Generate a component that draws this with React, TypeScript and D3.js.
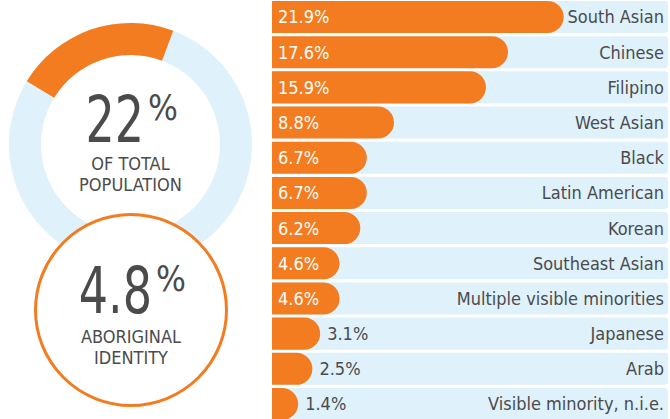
import React from 'react';
import * as d3 from 'd3';

const categories = [
  'South Asian',
  'Chinese',
  'Filipino',
  'West Asian',
  'Black',
  'Latin American',
  'Korean',
  'Southeast Asian',
  'Multiple visible minorities',
  'Japanese',
  'Arab',
  'Visible minority, n.i.e.',
];
const shares = [21.9, 17.6, 15.9, 8.8, 6.7, 6.7, 6.2, 4.6, 4.6, 3.1, 2.5, 1.4];
const totalShare = [22];
const aboriginalShare = [4.8];

const W = 670;
const H = 419;
const ORANGE = '#f47c20';
const PALE = '#dff1fb';
const INK = '#4b4b4d';
const FONT = '"Liberation Sans Narrow", "DejaVu Sans Condensed", "Open Sans", sans-serif';

function barPath(x0: number, y0: number, w: number, h: number) {
  const rx = Math.min(w, h / 2);
  const ry = h / 2;
  return `M${x0},${y0}H${x0 + w - rx}A${rx},${ry} 0 0 1 ${x0 + w},${y0 + ry}A${rx},${ry} 0 0 1 ${x0 + w - rx},${y0 + h}H${x0}Z`;
}

// big figure: condensed digits, raised percent sign
function BigFigure({ value, right, base }: { value: number; right: number; base: number }) {
  return (
    <g fill={INK}>
      <text transform={`translate(${right},${base}) scale(0.8,1)`} textAnchor="end" fontSize={64}>
        {value}
      </text>
      <text x={right + 4} y={base - 22} fontSize={35}>
        %
      </text>
    </g>
  );
}

export default function App() {
  const left = 272;
  const right = 668;

  const y = d3
    .scaleBand()
    .domain(categories)
    .range([1, 420])
    .paddingInner(0.09)
    .paddingOuter(0);

  // bar length includes the rounded cap
  const x = d3.scaleLinear().domain([0, 22]).range([8, 293]);

  // donut
  const cx = 130.5;
  const cy = 144.5;
  const outerR = 121.5;
  const innerR = 89.5;
  const share = totalShare[0] / 100;
  const mid = -19 * (Math.PI / 180);
  const ring = d3.arc<any>().innerRadius(innerR).outerRadius(outerR);
  const pale = ring({ startAngle: 0, endAngle: 2 * Math.PI });
  const filled = ring({
    startAngle: mid - share * Math.PI,
    endAngle: mid + share * Math.PI,
  });

  const c2x = 131;
  const c2y = 310;

  return (
    <svg
      width={W}
      height={H}
      style={{ position: 'absolute', left: 0, top: 0, background: '#fff' }}
      fontFamily={FONT}
    >
      {/* total population ring */}
      <g transform={`translate(${cx},${cy})`}>
        <path d={pale || ''} fill={PALE} />
        <path d={filled || ''} fill={ORANGE} />
      </g>
      <BigFigure value={totalShare[0]} right={144} base={142} />
      <text x={cx} y={170} textAnchor="middle" fill={INK} fontSize={18}>
        OF TOTAL
      </text>
      <text x={cx} y={191} textAnchor="middle" fill={INK} fontSize={18}>
        POPULATION
      </text>

      {/* aboriginal circle */}
      <circle cx={c2x} cy={c2y} r={95.5} fill="#fff" stroke={ORANGE} strokeWidth={3} />
      <BigFigure value={aboriginalShare[0]} right={152} base={313} />
      <text x={c2x} y={343} textAnchor="middle" fill={INK} fontSize={18}>
        ABORIGINAL
      </text>
      <text x={c2x} y={364} textAnchor="middle" fill={INK} fontSize={18}>
        IDENTITY
      </text>

      {/* visible minority bars */}
      {categories.map((c, i) => {
        const top = y(c) as number;
        const h = y.bandwidth();
        const w = x(shares[i]);
        const inside = w > 60;
        return (
          <g key={c}>
            <rect x={left} y={top} width={right - left} height={h} rx={3} fill={PALE} />
            <path d={barPath(left, top, w, h)} fill={ORANGE} />
            <text
              x={inside ? left + 6 : left + w + 7}
              y={top + h / 2}
              dy="0.36em"
              fontSize={18}
              fill={inside ? '#fff' : INK}
            >
              {shares[i].toFixed(1)}%
            </text>
            <text x={right - 4} y={top + h / 2} dy="0.36em" fontSize={18} textAnchor="end" fill={INK}>
              {c}
            </text>
          </g>
        );
      })}
    </svg>
  );
}
